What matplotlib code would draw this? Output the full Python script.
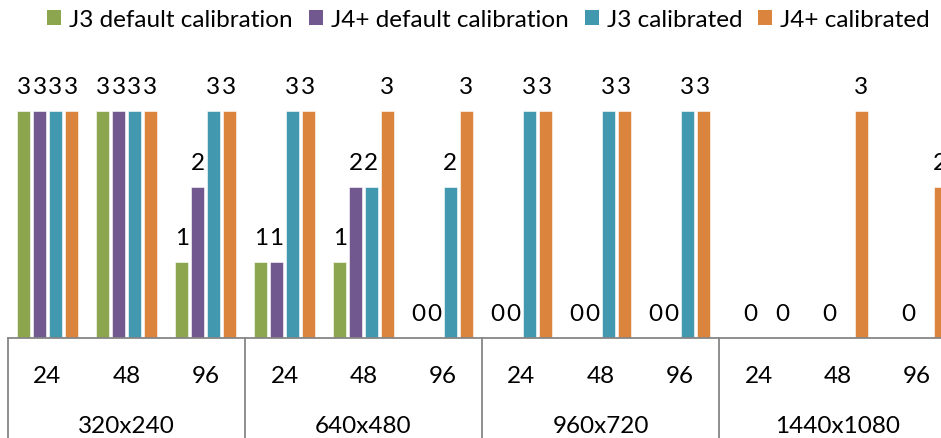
import matplotlib
matplotlib.use("Agg")
import matplotlib.pyplot as plt
import numpy as np
from matplotlib.patches import Patch

plt.rcParams["font.family"] = ["Lato", "DejaVu Sans"]

resolutions = ["320x240", "640x480", "960x720", "1440x1080"]
rates = ["24", "48", "96"]
series_names = ["J3 default calibration", "J4+ default calibration",
                "J3 calibrated", "J4+ calibrated"]
nan = np.nan
j3_default = [3, 3, 1, 1, 1, 0, 0, 0, 0, nan, nan, nan]
j4_default = [3, 3, 2, 1, 2, 0, 0, 0, 0, 0, 0, 0]
j3_calib = [3, 3, 3, 3, 2, 2, 3, 3, 3, nan, nan, nan]
j4_calib = [3, 3, 3, 3, 3, 3, 3, 3, 3, 0, 3, 2]
colors = ["#8BA64F", "#71588F", "#4198AF", "#DB843D"]

W, H = 941, 439
fig = plt.figure(figsize=(W / 100, H / 100), dpi=100)

# plot area: baseline at y=339px, 1 unit = 75.7px, 79px per category
x0, base, unit, cat = 8, 339, 75.7, 79
ytop = 3.6
ncat = len(j3_default)
ax = fig.add_axes([x0 / W, (H - base) / H, ncat * cat / W, ytop * unit / H])
ax.set_xlim(0, ncat)
ax.set_ylim(0, ytop)

x = np.arange(ncat) + 0.5
step, width = 0.2, 0.162
fs = 17.5
all_series = [j3_default, j4_default, j3_calib, j4_calib]
for k, (vals, c) in enumerate(zip(all_series, colors)):
    xs = x + (k - 1.5) * step
    ax.bar(xs, vals, width=width, color=c, edgecolor="white", linewidth=0.4)
    for xi, v in zip(xs, vals):
        if np.isnan(v):
            continue
        ax.annotate(f"{v:.0f}", (xi, v), xytext=(0, 13), textcoords="offset points",
                    ha="center", va="baseline", fontsize=fs)

for s in ["top", "left", "right"]:
    ax.spines[s].set_visible(False)
ax.spines["bottom"].set_color("#868686")
ax.spines["bottom"].set_linewidth(1.3)
ax.set_yticks([])
ax.set_xticks([])

# two-level category axis
for i in range(ncat):
    ax.annotate(rates[i % 3], (x[i], 0), xycoords=("data", "axes fraction"),
                xytext=(0, -31.7), textcoords="offset points",
                ha="center", va="baseline", fontsize=fs)
for g, name in enumerate(resolutions):
    ax.annotate(name, (g * 3 + 1.5, 0), xycoords=("data", "axes fraction"),
                xytext=(0, -68), textcoords="offset points",
                ha="center", va="baseline", fontsize=fs)
for g in range(len(resolutions) + 1):
    ax.plot([g * 3, g * 3], [0, -0.5], transform=ax.get_xaxis_transform(),
            color="#868686", lw=1.3, clip_on=False)

handles = [Patch(facecolor=c, edgecolor="none") for c in colors]
fig.legend(handles, series_names, loc="upper left", bbox_to_anchor=(47 / W, 1 - 10 / H),
           ncol=4, frameon=False, fontsize=fs, handlelength=0.58, handleheight=0.58,
           handletextpad=0.33, columnspacing=0.66, borderaxespad=0, borderpad=0)

fig.savefig("out.png", dpi=100)
